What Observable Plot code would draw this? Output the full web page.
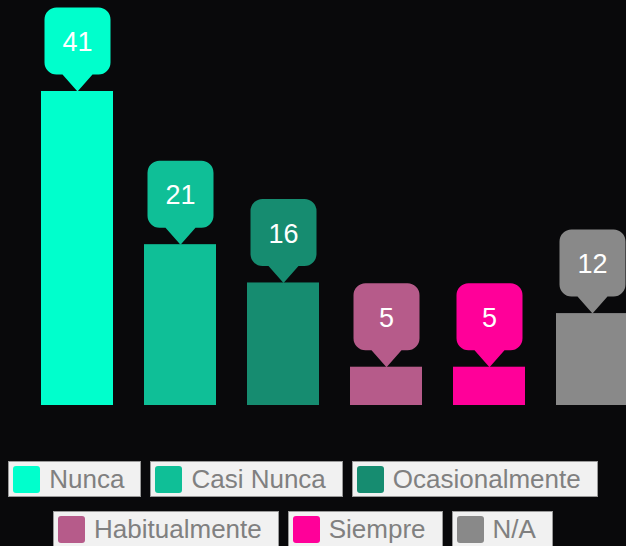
<!DOCTYPE html>
<html>
<head>
<meta charset="utf-8">
<script src="https://cdn.jsdelivr.net/npm/d3@7"></script>
<script src="https://cdn.jsdelivr.net/npm/@observablehq/plot@0.6"></script>
<style>
  html, body { margin: 0; padding: 0; background: #09090b; overflow: hidden; }
  body { width: 626px; height: 546px; font-family: "Liberation Sans", Arial, sans-serif; }
  #legend { width: 606px; display: flex; flex-wrap: wrap; justify-content: center; column-gap: 9px; row-gap: 14px; margin-top: 11px; }
  .item { display: flex; align-items: center; height: 34px; background: #f1f1f1; border: 1px solid #9a9a9a; padding: 0 16px 0 4px; box-sizing: content-box; }
  .sw { width: 27px; height: 27px; border-radius: 3px; margin-right: 9px; }
  .lb { font-size: 26px; color: #808080; line-height: 1; }
</style>
</head>
<body>
<div id="chart"></div>
<div id="legend"></div>
<script>
const categories = ["Nunca", "Casi Nunca", "Ocasionalmente", "Habitualmente", "Siempre", "N/A"];
const values = [41, 21, 16, 5, 5, 12];
const colors = ["#00ffcc", "#0fbf97", "#168c70", "#b65b8a", "#ff0099", "#898989"];

const data = categories.map((c, i) => ({cat: c, value: values[i]}));

// callout shape: tip at (0,0), rounded box above
const callout = {
  draw(ctx) {
    const w = 33, top = -84, bot = -17, r = 12, pw = 15;
    ctx.moveTo(0, 0);
    ctx.lineTo(pw, bot);
    ctx.lineTo(w - r, bot);
    ctx.arcTo(w, bot, w, bot - r, r);
    ctx.lineTo(w, top + r);
    ctx.arcTo(w, top, w - r, top, r);
    ctx.lineTo(-w + r, top);
    ctx.arcTo(-w, top, -w, top + r, r);
    ctx.lineTo(-w, bot - r);
    ctx.arcTo(-w, bot, -w + r, bot, r);
    ctx.lineTo(-pw, bot);
    ctx.closePath();
  }
};

const chart = Plot.plot({
  width: 626,
  height: 450,
  margin: 0,
  style: {background: "transparent", overflow: "hidden"},
  x: {domain: categories, range: [9, 660], padding: 0.3, axis: null},
  y: {domain: [0, 41], range: [405, 91], axis: null},
  color: {domain: categories, range: colors},
  marks: [
    Plot.barY(data, {x: "cat", y: "value", fill: "cat"}),
    Plot.dot(data, {x: "cat", y: "value", fill: "cat", symbol: callout}),
    Plot.text(data, {x: "cat", y: "value", text: d => String(d.value), dy: -49, fill: "white", fontSize: 27, fontFamily: "Liberation Sans, Arial, sans-serif"})
  ]
});
document.getElementById("chart").appendChild(chart);

const legend = document.getElementById("legend");
categories.forEach((c, i) => {
  const it = document.createElement("div");
  it.className = "item";
  const sw = document.createElement("div");
  sw.className = "sw";
  sw.style.background = colors[i];
  const lb = document.createElement("span");
  lb.className = "lb";
  lb.textContent = c;
  it.appendChild(sw);
  it.appendChild(lb);
  legend.appendChild(it);
});
</script>
</body>
</html>
